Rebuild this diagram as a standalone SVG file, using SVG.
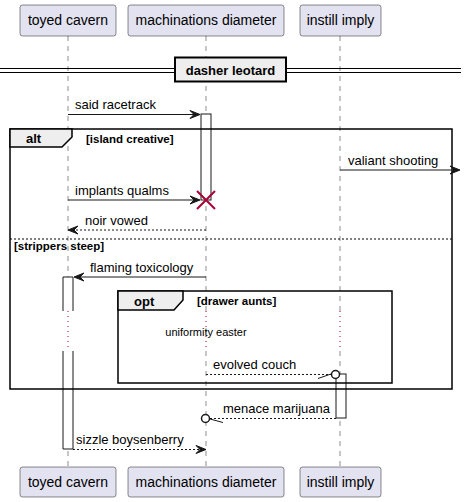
<svg xmlns="http://www.w3.org/2000/svg" width="467" height="502" viewBox="0 0 467 502">
<style>
.pbox{fill:#E2E2F0;stroke:#181818;stroke-width:0.5}
.ptxt{font-family:"Liberation Sans",Arial,sans-serif;font-size:14px;fill:#000;text-anchor:middle}
.life{stroke:#181818;stroke-width:0.5;stroke-dasharray:5,5;fill:none}
.delay{stroke:#A80036;stroke-width:1;stroke-dasharray:1,4;fill:none}
.act{fill:#fff;stroke:#181818;stroke-width:1}
.actfill{fill:#fff;stroke:none}
.msg{stroke:#181818;stroke-width:1;fill:none}
.dash{stroke-dasharray:2,2}
.head{fill:#181818;stroke:#181818;stroke-width:1}
.mtxt{font-family:"Liberation Sans",Arial,sans-serif;font-size:13px;fill:#000}
.frame{fill:none;stroke:#000;stroke-width:1.5}
.tab{fill:#EEEEEE;stroke:#000;stroke-width:1.5}
.ftxt{font-family:"Liberation Sans",Arial,sans-serif;font-size:13px;font-weight:bold;fill:#000}
.gtxt{font-family:"Liberation Sans",Arial,sans-serif;font-size:11.5px;font-weight:bold;fill:#000}
</style>
<rect width="467" height="502" fill="#fff"/>
<g id="lifelines">
<path class="life" d="M68,36 V311 M68,351 V467"/>
<path class="life" d="M206,36 V311 M206,351 V467"/>
<path class="life" d="M340,36 V311 M340,351 V467"/>
<path class="delay" d="M68,311 V351 M206,311 V351 M340,311 V351"/>
</g>
<g id="participants">
<g id="p-toyed-top"><rect class="pbox" x="20" y="5" width="96" height="31" rx="2.5"/><text class="ptxt" x="68" y="25">toyed cavern</text></g>
<g id="p-mach-top"><rect class="pbox" x="128" y="5" width="156" height="31" rx="2.5"/><text class="ptxt" x="206" y="25">machinations diameter</text></g>
<g id="p-instill-top"><rect class="pbox" x="300" y="5" width="81" height="31" rx="2.5"/><text class="ptxt" x="340.5" y="25">instill imply</text></g>
<g id="p-toyed-bot"><rect class="pbox" x="20" y="467" width="96" height="30" rx="2.5"/><text class="ptxt" x="68" y="487">toyed cavern</text></g>
<g id="p-mach-bot"><rect class="pbox" x="128" y="467" width="156" height="30" rx="2.5"/><text class="ptxt" x="206" y="487">machinations diameter</text></g>
<g id="p-instill-bot"><rect class="pbox" x="300" y="467" width="81" height="30" rx="2.5"/><text class="ptxt" x="340.5" y="487">instill imply</text></g>
</g>
<g id="divider">
<path d="M0,68.5 H461 M0,72.5 H461" stroke="#000" stroke-width="1" fill="none"/>
<rect x="175" y="57.5" width="111" height="24" fill="#EEEEEE" stroke="#000" stroke-width="2"/>
<text class="ftxt" x="230.5" y="75" text-anchor="middle">dasher leotard</text>
</g>
<g id="activations">
<rect class="act" x="201" y="114" width="10" height="86"/>
<rect class="actfill" x="63" y="277" width="10" height="34"/>
<rect class="actfill" x="63" y="351" width="10" height="98"/>
<path class="msg" d="M63,311 V277 H73 V311 M63,351 V449 H73 V351"/>
<rect class="act" x="336" y="374" width="10" height="44"/>
</g>
<g id="frames">
<g id="alt">
<rect class="frame" x="10" y="129" width="442" height="260"/>
<path class="tab" d="M10,129 H72 V137 L62,147 H10 Z"/>
<text class="ftxt" x="26" y="143">alt</text>
<text class="gtxt" x="86" y="143">[island creative]</text>
<path d="M10,239 H452" stroke="#000" stroke-width="1" stroke-dasharray="2,2"/>
<text class="gtxt" x="14" y="250">[strippers steep]</text>
</g>
<g id="opt">
<rect class="frame" x="118" y="291" width="274" height="92"/>
<path class="tab" d="M118,291 H183 V300 L174,310 H118 Z"/>
<text class="ftxt" x="134" y="306">opt</text>
<text class="gtxt" x="197" y="305">[drawer aunts]</text>
</g>
</g>
<g id="connectors">
<g id="m1"><path class="msg" d="M68,114.5 H199"/><polygon class="head" points="200,114.5 190,110.5 194,114.5 190,118.5"/><text class="mtxt" x="75" y="109">said racetrack</text></g>
<g id="m2"><path class="msg" d="M340,170 H459"/><polygon class="head" points="460,170 450,166 454,170 450,174"/><text class="mtxt" x="348" y="165">valiant shooting</text></g>
<g id="m3"><path class="msg" d="M68,200 H199"/><polygon class="head" points="200,200 190,196 194,200 190,204"/><text class="mtxt" x="75" y="195">implants qualms</text>
<path d="M197,191 L215,209 M197,209 L215,191" stroke="#A80036" stroke-width="2"/></g>
<g id="m4"><path class="msg dash" d="M72,230 H206"/><polygon class="head" points="68,230 78,226 74,230 78,234"/><text class="mtxt" x="85" y="225">noir vowed</text></g>
<g id="m5"><path class="msg" d="M76,277 H206"/><polygon class="head" points="74,277 84,273 80,277 84,281"/><text class="mtxt" x="90" y="272">flaming toxicology</text></g>
<text class="mtxt" x="206" y="336" text-anchor="middle" style="font-size:11px">uniformity easter</text>
<g id="m6"><path class="msg dash" d="M206,374.5 H331"/><circle cx="335.5" cy="374.5" r="4" fill="#fff" stroke="#181818" stroke-width="1.5"/><path class="msg" d="M318,378.5 L331,374"/><text class="mtxt" x="213" y="369">evolved couch</text></g>
<g id="m7"><path class="msg dash" d="M210,418.5 H336"/><circle cx="205.5" cy="418.5" r="4" fill="#fff" stroke="#181818" stroke-width="1.5"/><path class="msg" d="M210,419 L223,422.5"/><text class="mtxt" x="223" y="413">menace marijuana</text></g>
<g id="m8"><path class="msg dash" d="M73,449.5 H204"/><polygon class="head" points="206,449.5 196,445.5 200,449.5 196,453.5"/><text class="mtxt" x="76" y="444">sizzle boysenberry</text></g>
</g>
</svg>
